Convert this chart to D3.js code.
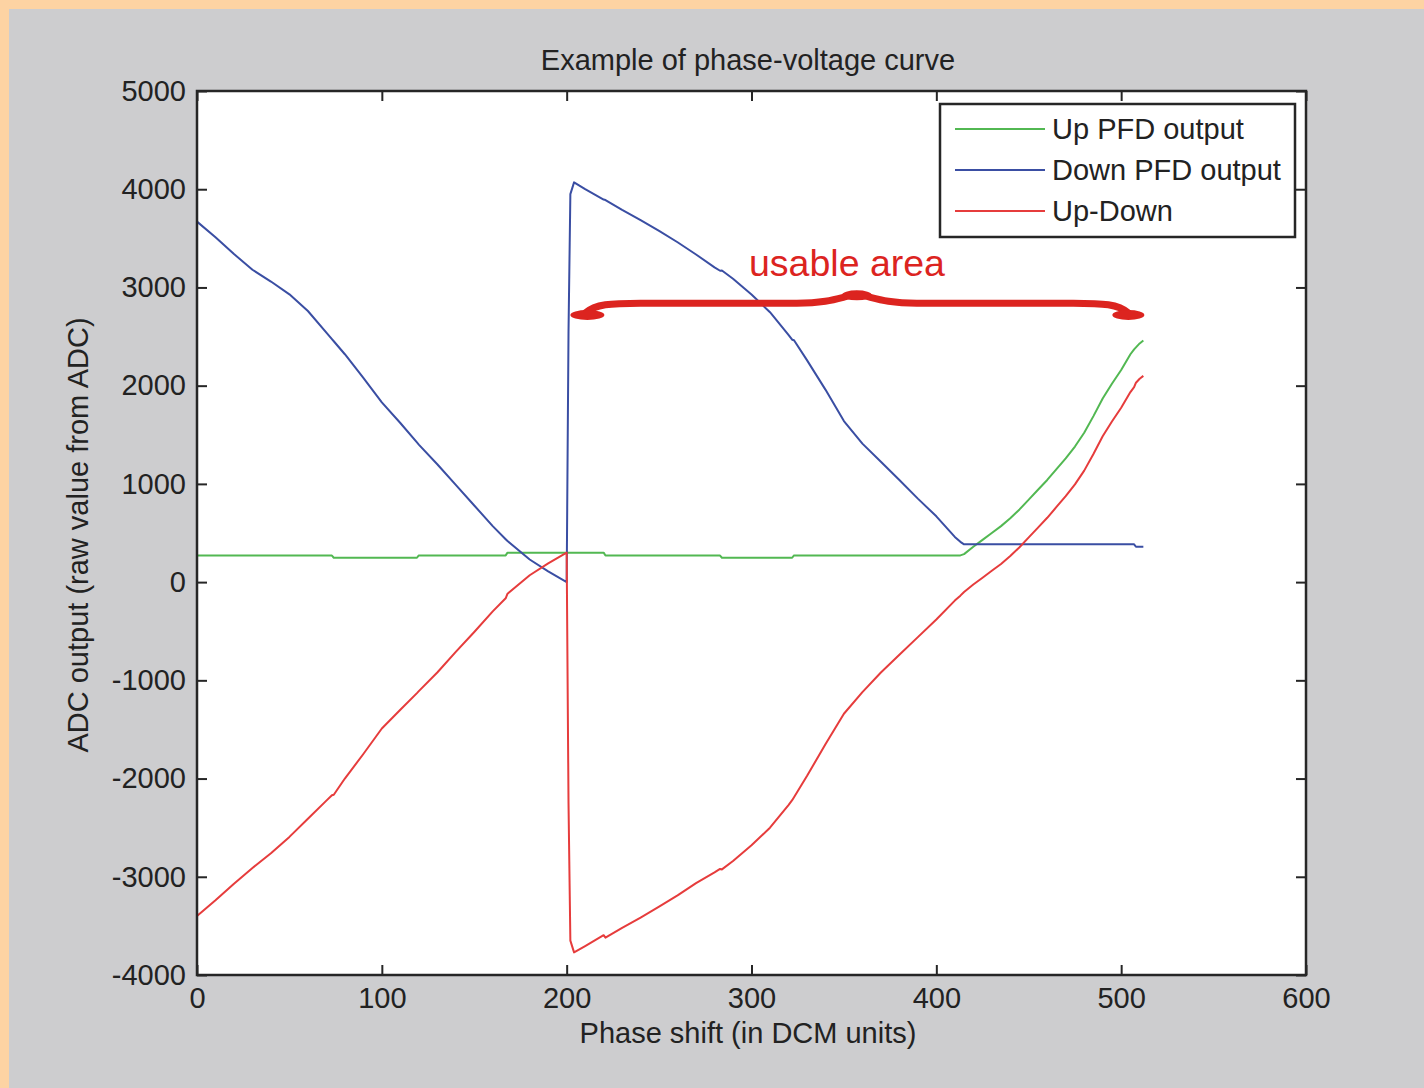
<!DOCTYPE html>
<html><head><meta charset="utf-8">
<script src="https://cdn.jsdelivr.net/npm/d3@7"></script>
<style>
html,body{margin:0;padding:0;background:#fdd3a3;}
svg{display:block;}
text{font-family:"Liberation Sans",Arial,Helvetica,sans-serif;fill:#222;}
</style></head>
<body>
<svg id="c" width="1424" height="1088"></svg>
<script>
const phase = [0,10,20,30,40,50,60,70,73,74,80,90,100,110,119,120,130,140,150,160,167,168,180,190,200,201,202,204,210,220,221,230,240,250,260,270,280,283,284,290,300,310,320,322,323,330,340,350,360,370,380,390,400,410,413,415,420,425,430,435,440,445,450,455,460,465,470,475,480,485,490,495,500,505,507,508,510,512];
const upPFD = [270,270,270,270,270,270,270,270,270,248,248,248,248,248,248,272,272,272,272,272,272,300,300,300,300,300,300,300,300,300,270,270,270,270,270,270,270,270,248,248,248,248,248,248,272,272,272,272,272,272,272,272,272,272,272,285,360,430,500,570,650,740,840,940,1040,1150,1260,1380,1520,1690,1870,2020,2160,2320,2370,2390,2430,2460];
const downPFD = [3670,3510,3340,3180,3060,2930,2760,2540,2474,2452,2320,2080,1830,1620,1422,1400,1200,990,780,570,437,418,230,110,0,2550,3950,4070,4000,3895,3890,3790,3685,3575,3460,3335,3205,3170,3173,3088,2928,2748,2518,2468,2462,2260,1960,1640,1410,1225,1040,850,670,460,410,385,385,385,385,385,385,385,385,385,385,385,385,385,385,385,385,385,385,385,385,360,360,360];
const upDown = [-3400,-3240,-3070,-2910,-2760,-2594,-2410,-2225,-2170,-2165,-2000,-1750,-1490,-1300,-1130,-1110,-920,-710,-508,-298,-165,-118,70,190,300,-2250,-3650,-3770,-3705,-3595,-3620,-3520,-3415,-3305,-3190,-3065,-2955,-2920,-2925,-2840,-2680,-2500,-2270,-2220,-2190,-1975,-1650,-1340,-1120,-920,-740,-560,-380,-188,-138,-100,-25,45,115,185,265,355,455,555,655,765,875,995,1135,1305,1485,1635,1775,1935,1985,2030,2070,2100];
const seriesNames = ["Up PFD output","Down PFD output","Up-Down"];
const xTicks = [0,100,200,300,400,500,600];
const yTicks = [-4000,-3000,-2000,-1000,0,1000,2000,3000,4000,5000];
const titleText = "Example of phase-voltage curve";
const xLabel = "Phase shift (in DCM units)";
const yLabel = "ADC output (raw value from ADC)";
const noteText = "usable area";
const bracePhase = [202, 357, 512];
const braceLevels = [2720, 2840, 2950];

const colors = ["#52b852","#3a4ea3","#e63c3c"];
const noteColor = "#dc241f";
const svg = d3.select("#c");
svg.append("rect").attr("x",9).attr("y",9).attr("width",1415).attr("height",1079).attr("fill","#cdcdcf");

const L=197,R=1306,T=91,B=975;
const x = d3.scaleLinear().domain([0,600]).range([L,R]);
const y = d3.scaleLinear().domain([-4000,5000]).range([B,T]);

svg.append("rect").attr("x",L).attr("y",T).attr("width",R-L).attr("height",B-T).attr("fill","#fff");

const fs = 29;
const fmt = d => String(d);
function styleAxis(g){
  g.selectAll(".domain").remove();
  g.selectAll(".tick line").attr("stroke","#262626").attr("stroke-width",2);
  g.selectAll(".tick text").attr("font-size",fs).attr("fill","#222").attr("font-family","Liberation Sans, Arial, sans-serif");
}
svg.append("g").attr("transform",`translate(0,${B})`)
  .call(d3.axisBottom(x).tickValues(xTicks).tickSizeInner(-10).tickSizeOuter(0).tickPadding(12).tickFormat(fmt))
  .call(styleAxis);
svg.append("g").attr("transform",`translate(0,${T})`)
  .call(d3.axisTop(x).tickValues(xTicks).tickSizeInner(-10).tickSizeOuter(0).tickFormat(""))
  .call(styleAxis);
svg.append("g").attr("transform",`translate(${L},0)`)
  .call(d3.axisLeft(y).tickValues(yTicks).tickSizeInner(-10).tickSizeOuter(0).tickPadding(11).tickFormat(fmt))
  .call(styleAxis);
svg.append("g").attr("transform",`translate(${R},0)`)
  .call(d3.axisRight(y).tickValues(yTicks).tickSizeInner(-10).tickSizeOuter(0).tickFormat(""))
  .call(styleAxis);

const series = [upPFD, downPFD, upDown];
const line = d3.line().x((d,i)=>x(phase[i])).y(d=>y(d));
series.forEach((s,k)=>{
  svg.append("path").datum(s).attr("d",line).attr("fill","none")
    .attr("stroke",colors[k]).attr("stroke-width",2).attr("stroke-linejoin","round");
});

svg.append("rect").attr("x",L).attr("y",T).attr("width",R-L).attr("height",B-T)
  .attr("fill","none").attr("stroke","#262626").attr("stroke-width",2.5);

// legend
const lg = svg.append("g");
lg.append("rect").attr("x",940).attr("y",104).attr("width",355).attr("height",133)
  .attr("fill","#fff").attr("stroke","#262626").attr("stroke-width",2.5);
seriesNames.forEach((n,k)=>{
  const yy = 129 + k*41;
  lg.append("line").attr("x1",955).attr("x2",1045).attr("y1",yy).attr("y2",yy)
    .attr("stroke",colors[k]).attr("stroke-width",2);
  lg.append("text").attr("x",1052).attr("y",yy).attr("dy","0.35em").attr("font-size",fs).text(n);
});

// titles
svg.append("text").attr("x",748).attr("y",70).attr("text-anchor","middle").attr("font-size",fs).text(titleText);
svg.append("text").attr("x",748).attr("y",1043).attr("text-anchor","middle").attr("font-size",fs).text(xLabel);
svg.append("text").attr("transform",`translate(88,535) rotate(-90)`).attr("text-anchor","middle").attr("font-size",fs).text(yLabel);

// annotation brace
const x0=x(bracePhase[0]), xm=x(bracePhase[1]), x1=x(bracePhase[2]);
const ye=y(braceLevels[0]), yl=y(braceLevels[1]), yp=y(braceLevels[2]);
const p = d3.path();
p.moveTo(x0+15, ye-2);
p.bezierCurveTo(x0+25, yl+1, x0+40, yl, x0+70, yl);
p.lineTo(xm-60, yl);
p.bezierCurveTo(xm-25, yl, xm-15, yp+4, xm, yp+2);
p.bezierCurveTo(xm+15, yp+4, xm+25, yl, xm+60, yl);
p.lineTo(x1-70, yl);
p.bezierCurveTo(x1-40, yl, x1-25, yl+1, x1-15, ye-2);
svg.append("path").attr("d",p.toString()).attr("fill","none").attr("stroke",noteColor).attr("stroke-width",7).attr("stroke-linecap","round");
svg.append("ellipse").attr("cx",x0+17).attr("cy",ye).attr("rx",17).attr("ry",5).attr("fill",noteColor);
svg.append("ellipse").attr("cx",x1-15).attr("cy",ye).attr("rx",16).attr("ry",5).attr("fill",noteColor);
svg.append("ellipse").attr("cx",xm).attr("cy",yp+3).attr("rx",15).attr("ry",5).attr("fill",noteColor);
svg.append("text").attr("x",847).attr("y",y(3115)).attr("text-anchor","middle").attr("font-size",37.5)
  .style("fill",noteColor).text(noteText);
</script>
</body></html>
